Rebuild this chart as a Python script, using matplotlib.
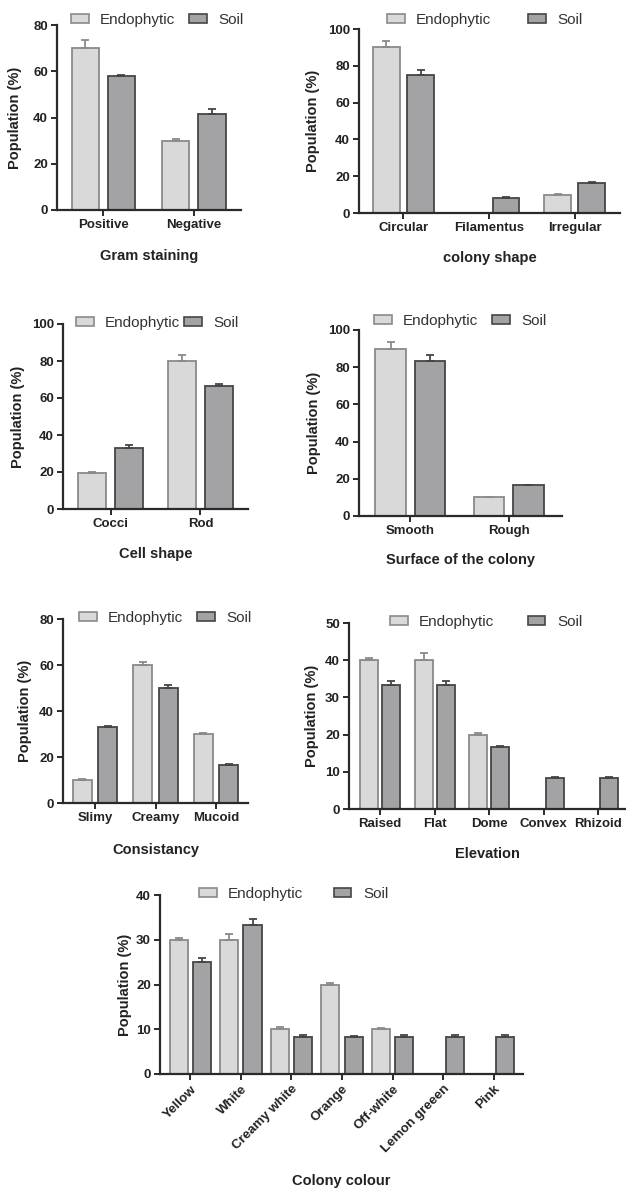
import numpy as np
import matplotlib
matplotlib.use("Agg")
import matplotlib.pyplot as plt
from matplotlib.patches import Patch

plt.rcParams["font.family"] = ["Liberation Sans", "DejaVu Sans"]

W, H = 626, 1188

ENDO_COLOR = "#d9d9d9"
ENDO_EDGE = "#8a8a8a"
SOIL_COLOR = "#a3a3a5"
SOIL_EDGE = "#454545"
AXIS_COLOR = "#2a2a2a"

# Gram staining
gram_cats = ["Positive", "Negative"]
gram_endo = [70, 30]
gram_endo_err = [3.5, 0.5]
gram_soil = [58, 41.5]
gram_soil_err = [0.5, 2.0]

# colony shape
shape_cats = ["Circular", "Filamentus", "Irregular"]
shape_endo = [90, 0, 10]
shape_endo_err = [3.5, 0, 0.4]
shape_soil = [75, 8, 16.5]
shape_soil_err = [2.5, 0.5, 0.5]

# Cell shape
cell_cats = ["Cocci", "Rod"]
cell_endo = [19.5, 80]
cell_endo_err = [0.3, 3.0]
cell_soil = [33, 66.5]
cell_soil_err = [1.5, 1.0]

# Surface of the colony
surf_cats = ["Smooth", "Rough"]
surf_endo = [90, 10]
surf_endo_err = [3.5, 0.3]
surf_soil = [83.5, 16.5]
surf_soil_err = [3.0, 0.3]

# Consistancy
cons_cats = ["Slimy", "Creamy", "Mucoid"]
cons_endo = [10, 60, 30]
cons_endo_err = [0.4, 1.5, 0.5]
cons_soil = [33, 50, 16.5]
cons_soil_err = [0.3, 1.5, 0.3]

# Elevation
elev_cats = ["Raised", "Flat", "Dome", "Convex", "Rhizoid"]
elev_endo = [40, 40, 20, 0, 0]
elev_endo_err = [0.5, 2.0, 0.5, 0, 0]
elev_soil = [33.3, 33.3, 16.7, 8.3, 8.3]
elev_soil_err = [1.0, 1.0, 0.3, 0.3, 0.3]

# Colony colour
col_cats = ["Yellow", "White", "Creamy white", "Orange", "Off-white",
            "Lemon greeen", "Pink"]
col_endo = [30, 30, 10, 20, 10, 0, 0]
col_endo_err = [0.5, 1.2, 0.5, 0.3, 0.2, 0, 0]
col_soil = [25, 33.3, 8.3, 8.3, 8.3, 8.3, 8.3]
col_soil_err = [1.0, 1.3, 0.5, 0.2, 0.5, 0.5, 0.5]


fig = plt.figure(figsize=(W / 100, H / 100), dpi=100)


def draw_panel(box, cats, endo, endo_err, soil, soil_err, ymax, ystep,
               xlim, width, offset, xlabel, leg_xy, colspace,
               ylabel_x, xlabel_y, rotate=False):
    left, top, right, bottom = box
    ax = fig.add_axes([left / W, 1 - bottom / H, (right - left) / W,
                       (bottom - top) / H])
    x = np.arange(len(cats))
    for vals, errs, pos, fc, ec in [
        (endo, endo_err, x - offset, ENDO_COLOR, ENDO_EDGE),
        (soil, soil_err, x + offset, SOIL_COLOR, SOIL_EDGE),
    ]:
        vals = np.array(vals, dtype=float)
        errs = np.array(errs, dtype=float)
        ax.bar(pos, vals, width, color=fc, edgecolor=ec, linewidth=1.3,
               zorder=2)
        keep = vals > 0
        ax.errorbar(pos[keep], vals[keep],
                    yerr=[np.zeros(keep.sum()), errs[keep]],
                    fmt="none", ecolor=ec, elinewidth=1.3, capsize=3,
                    capthick=1.3, zorder=3)

    ax.set_ylim(0, ymax)
    ax.set_xlim(*xlim)
    ax.set_yticks(np.arange(0, ymax + 0.1, ystep))
    ax.set_xticks(x)
    if rotate:
        ax.set_xticklabels(cats, rotation=45, ha="right",
                           rotation_mode="anchor")
    else:
        ax.set_xticklabels(cats)
    for lab in ax.get_xticklabels() + ax.get_yticklabels():
        lab.set_fontweight("bold")
        lab.set_fontsize(9.5)
        lab.set_color("#222222")
    ax.tick_params(axis="both", direction="out", length=4.5, width=1.4,
                   color=AXIS_COLOR, pad=2)
    for side in ["top", "right"]:
        ax.spines[side].set_visible(False)
    for side in ["left", "bottom"]:
        ax.spines[side].set_linewidth(1.6)
        ax.spines[side].set_color(AXIS_COLOR)

    ax.set_ylabel("Population (%)", fontsize=10.5, fontweight="bold",
                  color="#222222")
    ax.yaxis.set_label_coords((ylabel_x + 7 - left) / (right - left), 0.5)
    ax.set_xlabel(xlabel, fontsize=10.5, fontweight="bold", color="#222222")
    ax.xaxis.set_label_coords(0.5, -(xlabel_y - 8 - bottom) / (bottom - top))

    handles = [Patch(facecolor=ENDO_COLOR, edgecolor=ENDO_EDGE, lw=1.2),
               Patch(facecolor=SOIL_COLOR, edgecolor=SOIL_EDGE, lw=1.2)]
    ax.legend(handles, ["Endophytic", "Soil"], ncol=2, frameon=False,
              loc="center left",
              bbox_to_anchor=(leg_xy[0] / W, 1 - leg_xy[1] / H),
              bbox_transform=fig.transFigure, fontsize=11,
              borderpad=0, borderaxespad=0, handlelength=1.15,
              handleheight=0.6, handletextpad=0.75, columnspacing=colspace,
              labelcolor="#333333")
    return ax


draw_panel((57, 25, 241, 210), gram_cats, gram_endo, gram_endo_err,
           gram_soil, gram_soil_err, 80, 20, (-0.51, 1.52), 0.3, 0.2,
           "Gram staining", (71, 20), 0.9, 15, 257)

draw_panel((359, 29, 620, 213), shape_cats, shape_endo, shape_endo_err,
           shape_soil, shape_soil_err, 100, 20, (-0.52, 2.53), 0.31, 0.2,
           "colony shape", (387, 20), 2.4, 313, 259)

draw_panel((63, 324, 248, 509), cell_cats, cell_endo, cell_endo_err,
           cell_soil, cell_soil_err, 100, 20, (-0.53, 1.53), 0.31, 0.205,
           "Cell shape", (76, 323), 0.25, 18, 555)

draw_panel((359, 330, 562, 516), surf_cats, surf_endo, surf_endo_err,
           surf_soil, surf_soil_err, 100, 20, (-0.52, 1.54), 0.31, 0.2,
           "Surface of the colony", (374, 321), 0.9, 314, 561)

draw_panel((63, 619, 248, 803), cons_cats, cons_endo, cons_endo_err,
           cons_soil, cons_soil_err, 80, 20, (-0.53, 2.53), 0.31, 0.21,
           "Consistancy", (79, 618), 0.9, 25, 851)

draw_panel((349, 623, 626, 809), elev_cats, elev_endo, elev_endo_err,
           elev_soil, elev_soil_err, 50, 10, (-0.57, 4.51), 0.33, 0.2,
           "Elevation", (390, 622), 2.2, 312, 855)

draw_panel((160, 895, 523, 1074), col_cats, col_endo, col_endo_err,
           col_soil, col_soil_err, 40, 10, (-0.6, 6.58), 0.36, 0.23,
           "Colony colour", (199, 894), 2.0, 125, 1182, rotate=True)

fig.savefig("out.png", dpi=100, facecolor="white")
